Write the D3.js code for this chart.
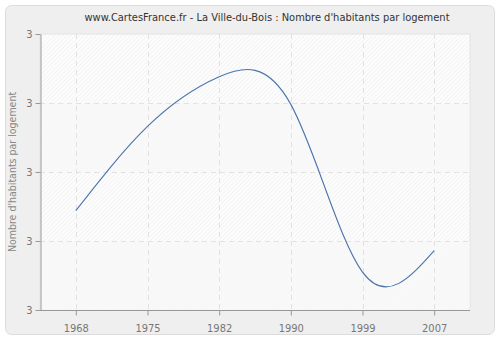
<!DOCTYPE html>
<html>
<head>
<meta charset="utf-8">
<script src="https://cdn.jsdelivr.net/npm/d3@7"></script>
<style>
  body { margin: 0; background: #fff; }
  svg { display: block; font-family: "DejaVu Sans Condensed", "Liberation Sans", sans-serif; }
</style>
</head>
<body>
<div id="chart"></div>
<script>
'use strict';

var years = ['1968', '1975', '1982', '1990', '1999', '2007'];
var values = [2.872, 2.933, 2.969, 2.949, 2.8275, 2.843];
var yTicks = [2.80, 2.85, 2.90, 2.95, 3.00];
var title = "www.CartesFrance.fr - La Ville-du-Bois : Nombre d'habitants par logement";
var yLabel = "Nombre d'habitants par logement";

var width = 500, height = 340;
var margin = {top: 34, right: 30, bottom: 30, left: 40};

var svg = d3.select('#chart').append('svg')
  .attr('width', width)
  .attr('height', height);

// outer frame
svg.append('rect')
  .attr('x', 5.5).attr('y', 5.5)
  .attr('width', 489).attr('height', 329)
  .attr('rx', 6)
  .attr('fill', '#efefef')
  .attr('stroke', '#dcdcdc');

var defs = svg.append('defs');
var pat = defs.append('pattern')
  .attr('id', 'hatch')
  .attr('patternUnits', 'userSpaceOnUse')
  .attr('width', 3).attr('height', 3)
  .attr('patternTransform', 'rotate(45)');
pat.append('rect').attr('width', 3).attr('height', 3).attr('fill', '#fdfdfd');
pat.append('line')
  .attr('x1', 0).attr('y1', 0).attr('x2', 0).attr('y2', 3)
  .attr('stroke', '#eaeaea').attr('stroke-width', 1);

var x = d3.scalePoint()
  .domain(years)
  .range([margin.left, width - margin.right])
  .padding(0.5);

var y = d3.scaleLinear()
  .domain([yTicks[0], yTicks[yTicks.length - 1]])
  .range([height - margin.bottom, margin.top]);

var plotW = width - margin.left - margin.right;

// plot background
svg.append('rect')
  .attr('x', margin.left).attr('y', margin.top)
  .attr('width', plotW)
  .attr('height', y.range()[0] - margin.top)
  .attr('fill', 'url(#hatch)')
  .attr('stroke', '#e4e4e4');

// lighter bands
for (var i = 0; i < yTicks.length - 1; i += 2) {
  svg.append('rect')
    .attr('x', margin.left + 0.5)
    .attr('y', y(yTicks[i + 1]))
    .attr('width', plotW - 1)
    .attr('height', y(yTicks[i]) - y(yTicks[i + 1]))
    .attr('fill', '#f8f8f8')
    .attr('opacity', 0.8);
}

// gridlines
svg.append('g').selectAll('line')
  .data(yTicks.slice(1, -1))
  .enter().append('line')
  .attr('x1', margin.left).attr('x2', width - margin.right)
  .attr('y1', function(d) { return Math.round(y(d)) + 0.5; })
  .attr('y2', function(d) { return Math.round(y(d)) + 0.5; })
  .attr('stroke', '#e2e2e2')
  .attr('stroke-dasharray', '5,4');

svg.append('g').selectAll('line')
  .data(years)
  .enter().append('line')
  .attr('x1', function(d) { return Math.round(x(d)) + 0.5; })
  .attr('x2', function(d) { return Math.round(x(d)) + 0.5; })
  .attr('y1', margin.top).attr('y2', y.range()[0])
  .attr('stroke', '#e2e2e2')
  .attr('stroke-dasharray', '5,4');

// axes
var xAxis = svg.append('g')
  .attr('transform', 'translate(0,' + (y.range()[0] + 0.5) + ')')
  .call(d3.axisBottom(x).tickSize(5).tickSizeOuter(0));
xAxis.select('.domain').attr('d', 'M' + margin.left + ',0H' + (width - margin.right));

var yAxis = svg.append('g')
  .attr('transform', 'translate(' + (margin.left + 0.5) + ',0)')
  .call(d3.axisLeft(y).tickValues(yTicks).tickSize(5).tickSizeOuter(0)
    .tickFormat(d3.format('.0f')));

[xAxis, yAxis].forEach(function(ax) {
  ax.select('.domain').attr('stroke', '#999');
  ax.selectAll('.tick line').attr('stroke', '#999');
  ax.selectAll('.tick text')
    .attr('fill', '#777')
    .style('font-family', '"DejaVu Sans Condensed", "Liberation Sans", sans-serif')
    .style('font-size', '11px');
});
xAxis.selectAll('.tick text').attr('dy', '1.25em');

// line
var line = d3.line()
  .x(function(d, i) { return x(years[i]); })
  .y(function(d) { return y(d); })
  .curve(d3.curveNatural);

svg.append('path')
  .datum(values)
  .attr('d', line)
  .attr('fill', 'none')
  .attr('stroke', '#4a74aa')
  .attr('stroke-width', 1.1);

// title
svg.append('text')
  .attr('x', 267).attr('y', 21)
  .attr('text-anchor', 'middle')
  .attr('fill', '#333')
  .style('font-size', '11px')
  .text(title);

svg.append('text')
  .attr('transform', 'translate(16,' + ((margin.top + y.range()[0]) / 2) + ') rotate(-90)')
  .attr('text-anchor', 'middle')
  .attr('fill', '#888')
  .style('font-size', '10.5px')
  .text(yLabel);
</script>
</body>
</html>
